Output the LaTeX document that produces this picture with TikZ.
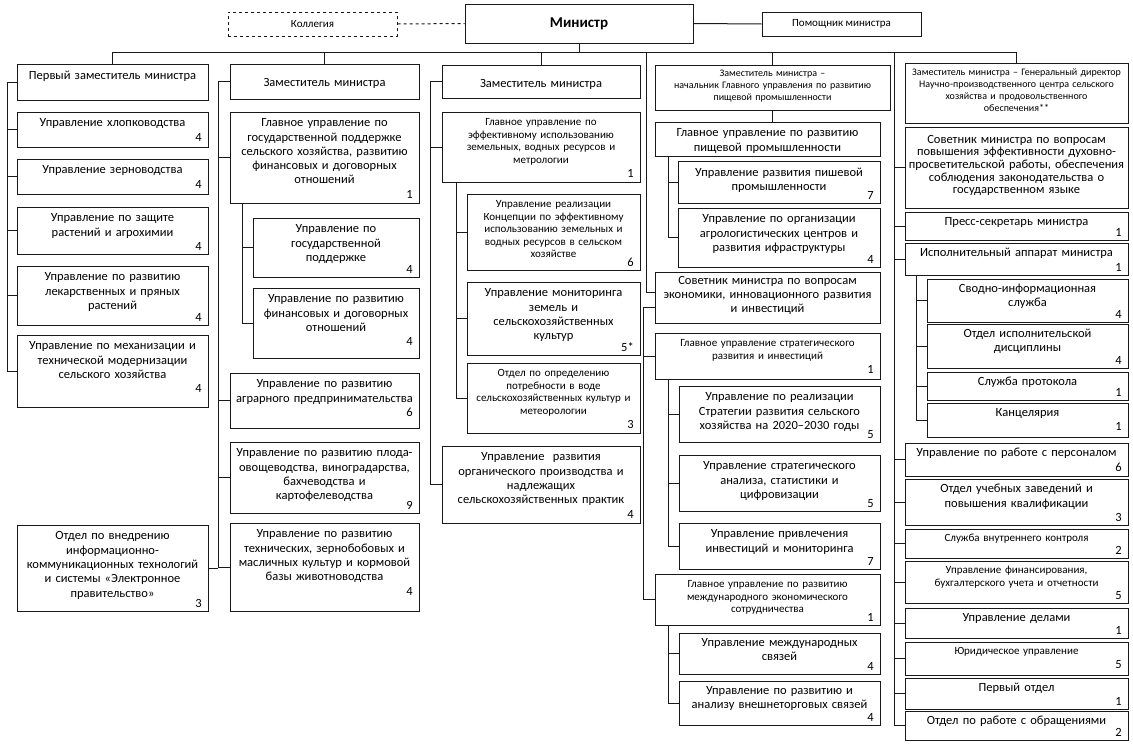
\documentclass[tikz,border=0pt]{standalone}
\usepackage{fontspec}
\setmainfont{Carlito}
\usetikzlibrary{calc}
\newcommand\fA{\fontsize{12.5}{14.3}\selectfont}
\newcommand\fB{\fontsize{11}{12.5}\selectfont}
\newcommand\fC{\fontsize{10}{12}\selectfont}
\newcommand\fD{\fontsize{12.5}{12.6}\selectfont}
\newcommand\dstrut{\vrule width 0pt height 0pt depth .3\baselineskip}
\tikzset{
 obox/.style={draw=black!90, line width=1pt, inner sep=0pt, outer sep=0pt, fill=white},
 otext/.style={anchor=north, align=center, inner sep=0pt},
 onum/.style={anchor=base east, inner sep=0pt, font=\fA},
 link/.style={draw=black!90, line width=1pt},
 topbox/.style={draw=black!90, line width=1pt, inner sep=0pt, font=\fB},
}
\newcommand\ob[9][0]{%
 \pgfmathsetmacro\obw{#5-#3-4}%
 \node[obox, minimum width={#5-#3}, minimum height={#6-#4}, anchor=north west] (#2) at (#3,-#4) {};
 \node[otext, font=#7, text width=\obw pt] (#2-t) at ([yshift={-6.5-(#1)}]#2.north) {#8\dstrut};
 \path let \p1=(#2-t.south), \p2=(#2.south) in
   node[onum] (#2-n) at ({#5-6}, {max(\y1-10,\y2+3.5)}) {#9};
}
\begin{document}
\begin{tikzpicture}[x=1pt,y=1pt]
\useasboundingbox[fill=white] (0,0) rectangle (1133,-744);
% top
\node[topbox, dashed, minimum width=169, minimum height=24] (kol) at (312.5,-24) {Коллегия};
\node[topbox, minimum width=228, minimum height=39, font=\fontsize{15}{17}\selectfont\bfseries] (min) at (579,-23.5) {Министр};
\node[topbox, minimum width=159, minimum height=24] (pom) at (841.5,-24) {Помощник министра};
\draw[link, dashed] (kol.east) -- (min.west);
\draw[link] (min.east) -- (pom.west);
\coordinate (bus) at (0,-52);
% column 1
\ob{d1}{17}{64}{208}{100}{\fA}{Первый заместитель министра}{}
\ob{c1a}{17}{112}{208}{147}{\fA}{Управление хлопководства}{4}
\ob{c1b}{17}{159}{208}{194}{\fA}{Управление зерноводства}{4}
\ob{c1c}{17}{207}{208}{254}{\fA}{Управление по защите\\растений и агрохимии}{4}
\ob{c1d}{17}{266}{208}{325}{\fA}{Управление по развитию\\лекарственных и пряных\\растений}{4}
\ob{c1e}{17}{335}{208}{407}{\fA}{Управление по механизации и\\технической модернизации\\сельского хозяйства}{4}
\ob{ikt}{17}{525}{208}{611}{\fA}{Отдел по внедрению\\информационно-\\коммуникационных технологий\\и системы «Электронное\\правительство»}{3}
% column 2
\ob[8]{d2}{230}{64}{419}{99}{\fA}{Заместитель министра}{}
\ob{g2}{230}{112}{419}{203}{\fA}{Главное управление по\\государственной поддержке\\сельского хозяйства, развитию\\финансовых и договорных\\отношений}{1}
\ob{g2a}{253}{218}{419}{277}{\fA}{Управление по\\государственной\\поддержке}{4}
\ob{g2b}{253}{288}{419}{358}{\fA}{Управление по развитию\\финансовых и договорных\\отношений}{4}
\ob{c2a}{230}{373}{419}{428}{\fA}{Управление по развитию\\аграрного предпринимательства}{6}
\ob{c2b}{230}{442}{419}{513}{\fA}{Управление по развитию плода-\\овощеводства, виноградарства,\\бахчеводства и\\картофелеводства}{9}
\ob{c2c}{230}{523}{419}{611}{\fA}{Управление по развитию\\технических, зернобобовых и\\масличных культур и кормовой\\базы животноводства}{4}
% column 3
\ob[8]{d3}{442}{65}{640}{98}{\fA}{Заместитель министра}{}
\ob{g3}{442}{112}{640}{182}{\fB}{Главное управление по\\эффективному использованию\\земельных, водных ресурсов и\\метрологии}{1}
\ob{g3a}{467}{194}{640}{270}{\fB}{Управление реализации\\Концепции по эффективному\\использованию земельных и\\водных ресурсов в сельском\\хозяйстве}{6}
\ob{g3b}{467}{282}{640}{355}{\fA}{Управление мониторинга\\земель и\\сельскохозяйственных\\культур}{5*}
\ob{g3c}{467}{363}{640}{433}{\fB}{Отдел по определению\\потребности в воде\\сельскохозяйственных культур и\\метеорологии}{3}
\ob{c3a}{442}{446}{640}{523}{\fA}{Управление~ развития\\органического производства и\\надлежащих\\сельскохозяйственных практик}{4}
% column 4
\ob[-2]{d4}{655}{65}{890}{110}{\fC}{Заместитель министра –\\начальник Главного управления по развитию\\пищевой промышленности}{}
\ob{g4}{655}{122}{880}{156}{\fA}{Главное управление по развитию\\пищевой промышленности}{}
\ob{g4a}{678}{161}{880}{203}{\fA}{Управление развития пишевой\\промышленности}{7}
\ob{g4b}{678}{208}{880}{267}{\fA}{Управление по организации\\агрологистических центров и\\развития ифраструктуры}{4}
\ob[-2.5]{s4}{655}{272}{880}{323}{\fA}{Советник министра по вопросам\\экономики, инновационного развития\\и инвестиций}{}
\ob{g5}{655}{333}{880}{379}{\fB}{Главное управление стратегического\\развития и инвестиций}{1}
\ob{g5a}{679}{386}{880}{442}{\fA}{Управление по реализации\\Стратегии развития сельского\\хозяйства на 2020–2030 годы}{5}
\ob{g5b}{679}{455}{880}{511}{\fA}{Управление стратегического\\анализа, статистики и\\цифровизации}{5}
\ob{g5c}{679}{523}{880}{569}{\fA}{Управление привлечения\\инвестиций и мониторинга}{7}
\ob{g6}{655}{574}{880}{625}{\fB}{Главное управление по развитию\\международного экономического\\сотрудничества}{1}
\ob[-1.5]{g6a}{679}{633}{880}{674}{\fA}{Управление международных\\связей}{4}
\ob[-1.5]{g6b}{679}{681}{880}{725}{\fA}{Управление по развитию и\\анализу внешнеторговых связей}{4}
% column 5
\ob[-1]{d5}{905}{63}{1128}{123}{\fC}{Заместитель министра – Генеральный директор\\Научно-производственного центра сельского\\хозяйства и продовольственного\\обеспечения**}{}
\ob[1.5]{s5}{905}{127}{1128}{208}{\fD}{Советник министра по вопросам\\повышения эффективности духовно-\\просветительской работы, обеспечения\\соблюдения законодательства о\\государственном языке}{}
\ob[-1.5]{p5}{905}{212}{1128}{240}{\fA}{Пресс-секретарь министра}{1}
\ob[-1.5]{e5}{905}{243}{1128}{275}{\fA}{Исполнительный аппарат министра}{1}
\ob[-1.5]{e5a}{927}{279}{1128}{322}{\fA}{Сводно-информационная\\служба}{4}
\ob[-1.5]{e5b}{927}{324}{1128}{368}{\fA}{Отдел исполнительской\\дисциплины}{4}
\ob[-1.5]{e5c}{927}{372}{1128}{400}{\fA}{Служба протокола}{1}
\ob[-1.5]{e5d}{927}{403}{1128}{437}{\fA}{Канцелярия}{1}
\ob[-1.5]{f1}{905}{443}{1128}{476}{\fA}{Управление по работе с персоналом}{6}
\ob[-1.5]{f2}{905}{479}{1128}{525}{\fA}{Отдел учебных заведений и\\повышения квалификации}{3}
\ob[-1.5]{f3}{905}{529}{1128}{558}{\fB}{Служба внутреннего контроля}{2}
\ob[-1.5]{f4}{905}{561}{1128}{603}{\fB}{Управление финансирования,\\бухгалтерского учета и отчетности}{5}
\ob[-1.5]{f5}{905}{608}{1128}{638}{\fA}{Управление делами}{1}
\ob[-1.5]{f6}{905}{642}{1128}{675}{\fB}{Юридическое управление}{5}
\ob[-1.5]{f7}{905}{678}{1128}{709}{\fA}{Первый отдел}{1}
\ob[-1.5]{f8}{905}{711}{1128}{740}{\fA}{Отдел по работе с обращениями}{2}
% connectors
\coordinate (v1) at (7,0);
\coordinate (v2) at (218,0);
\coordinate (w2) at (242,0);
\coordinate (v3) at (430,0);
\coordinate (w3) at (456,0);
\coordinate (v4) at (646,0);
\coordinate (u4) at (643,0);
\coordinate (w4) at (668,0);
\coordinate (v5) at (894,0);
\coordinate (w5) at (916,0);
\draw[link] (min.south) -- (min.south |- bus);
\draw[link] (d1.north |- bus) -- (d5.north |- bus);
\foreach \n in {d1,d2,d3,d4,d5} \draw[link] (\n.north |- bus) -- (\n.north);
\draw[link] (v1 |- d1.west) -- (v1 |- c1e.west);
\foreach \n in {d1,c1a,c1b,c1c,c1d,c1e} \draw[link] (v1 |- \n.west) -- (\n.west);
\draw[link] (v2 |- d2.west) -- (v2 |- c2c.west);
\foreach \n in {d2,g2,c2a,c2b,c2c} \draw[link] (v2 |- \n.west) -- (\n.west);
\draw[link] (ikt.east) -- (v2 |- ikt.east);
\draw[link] (w2 |- g2.south) -- (w2 |- g2b.west);
\foreach \n in {g2a,g2b} \draw[link] (w2 |- \n.west) -- (\n.west);
\draw[link] (v3 |- d3.west) -- (v3 |- c3a.west);
\foreach \n in {d3,g3,c3a} \draw[link] (v3 |- \n.west) -- (\n.west);
\draw[link] (w3 |- g3.south) -- (w3 |- g3c.west);
\foreach \n in {g3a,g3b,g3c} \draw[link] (w3 |- \n.west) -- (\n.west);
\draw[link] (d4.south) -- (d4.south |- g4.north);
\draw[link] (v4 |- bus) |- ([yshift=5]s4.west);
\draw[link] ([yshift=-10]s4.west) -| (u4 |- g6.west) -- (g6.west);
\draw[link] (u4 |- g5.west) -- (g5.west);
\draw[link] (w4 |- g4.south) -- (w4 |- g4b.west);
\foreach \n in {g4a,g4b} \draw[link] (w4 |- \n.west) -- (\n.west);
\draw[link] (w4 |- g5.south) -- (w4 |- g5c.west);
\foreach \n in {g5a,g5b,g5c} \draw[link] (w4 |- \n.west) -- (\n.west);
\draw[link] (w4 |- g6.south) -- (w4 |- g6b.west);
\foreach \n in {g6a,g6b} \draw[link] (w4 |- \n.west) -- (\n.west);
\draw[link] (v5 |- bus) -- (v5 |- f8.west);
\foreach \n in {s5,p5,e5,f1,f2,f3,f4,f5,f6,f7,f8} \draw[link] (v5 |- \n.west) -- (\n.west);
\draw[link] (w5 |- e5.south) -- (w5 |- e5d.west);
\foreach \n in {e5a,e5b,e5c,e5d} \draw[link] (w5 |- \n.west) -- (\n.west);
\end{tikzpicture}
\end{document}
